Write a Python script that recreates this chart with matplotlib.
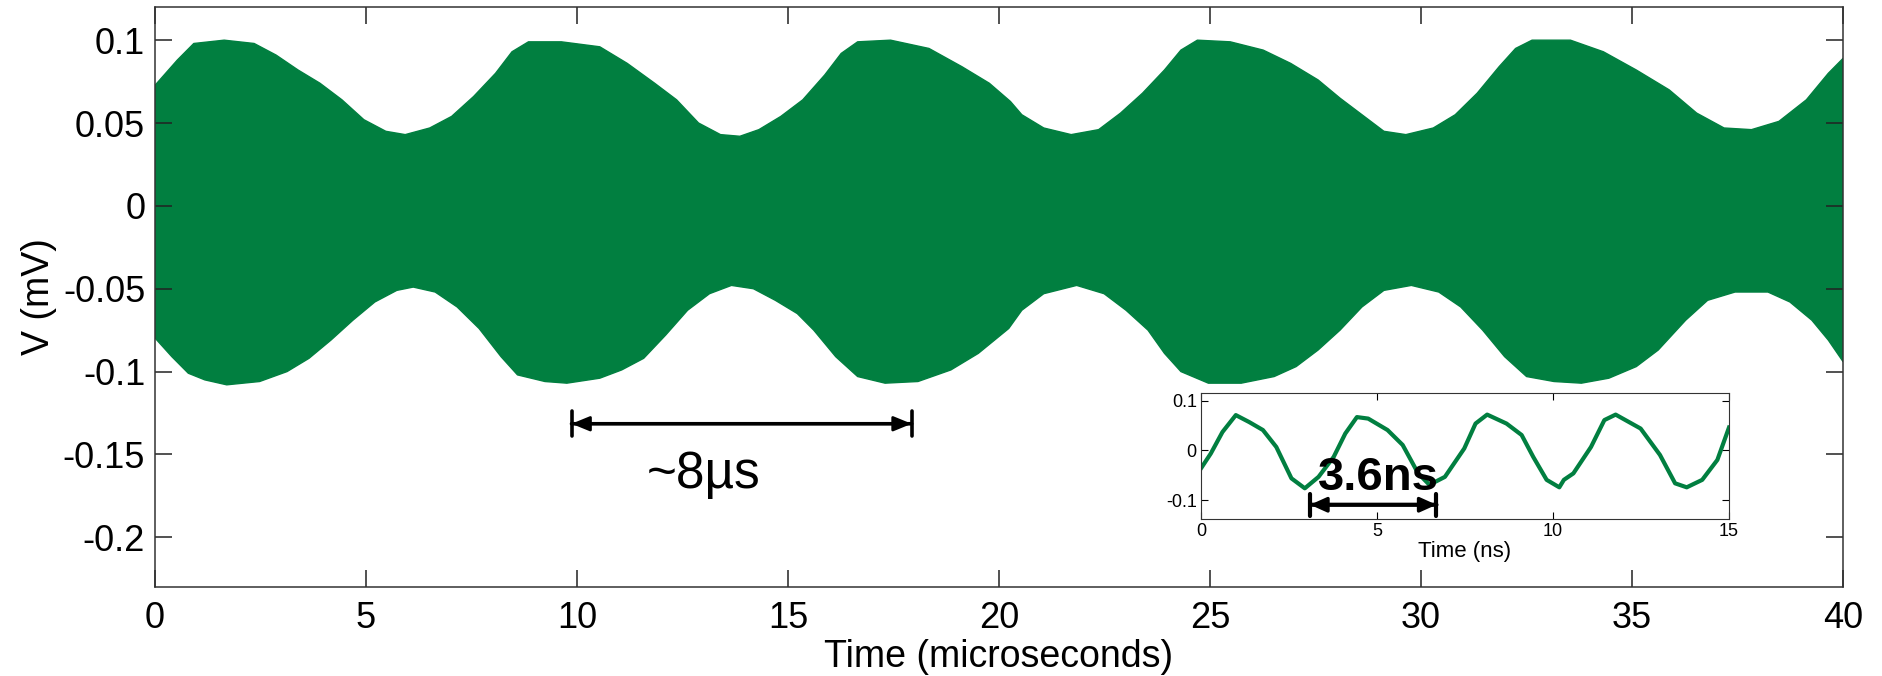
import matplotlib.pyplot as plt
import numpy as np

plt.rcParams['font.family'] = ['Liberation Sans', 'DejaVu Sans']

GREEN = '#017f40'

# upper envelope of the carrier (time in microseconds, V in mV)
up_t = [0.01, 0.53, 0.92, 1.64, 2.35, 2.87, 3.39, 3.91, 4.43, 4.95, 5.47, 5.93, 6.51, 7.03,
        7.55, 8.07, 8.46, 8.85, 9.63, 10.54, 11.19, 11.84, 12.36, 12.88, 13.40, 13.86, 14.31,
        14.83, 15.35, 15.87, 16.26, 16.65, 17.43, 18.34, 19.12, 19.77, 20.27, 20.54, 21.06,
        21.71, 22.36, 22.88, 23.40, 23.92, 24.31, 24.70, 25.48, 26.26, 26.91, 27.56, 28.08,
        28.60, 29.12, 29.64, 30.29, 30.81, 31.33, 31.85, 32.24, 32.63, 33.54, 34.32, 35.10,
        35.88, 36.53, 37.18, 37.83, 38.48, 39.13, 39.65, 40.0]
up_v = [0.073, 0.088, 0.098, 0.100, 0.098, 0.091, 0.082, 0.074, 0.064, 0.052, 0.045, 0.043,
        0.047, 0.054, 0.066, 0.080, 0.093, 0.099, 0.099, 0.096, 0.086, 0.074, 0.064, 0.050,
        0.043, 0.042, 0.046, 0.054, 0.064, 0.079, 0.092, 0.099, 0.100, 0.095, 0.084, 0.074,
        0.063, 0.055, 0.047, 0.043, 0.046, 0.056, 0.068, 0.082, 0.094, 0.100, 0.099, 0.094,
        0.086, 0.076, 0.065, 0.055, 0.045, 0.043, 0.047, 0.055, 0.068, 0.084, 0.095, 0.100,
        0.100, 0.093, 0.082, 0.070, 0.056, 0.047, 0.046, 0.051, 0.064, 0.080, 0.089]

# lower envelope
low_t = [0.01, 0.40, 0.79, 1.18, 1.70, 2.48, 3.13, 3.65, 4.17, 4.69, 5.21, 5.73, 6.12, 6.64,
         7.16, 7.68, 8.20, 8.59, 9.24, 9.76, 10.54, 11.06, 11.58, 12.10, 12.62, 13.14, 13.66,
         14.18, 14.70, 15.22, 15.61, 16.13, 16.65, 17.30, 18.08, 18.86, 19.51, 20.23, 20.54,
         21.06, 21.84, 22.49, 23.01, 23.53, 23.92, 24.31, 24.96, 25.74, 26.52, 27.04, 27.56,
         28.08, 28.60, 29.12, 29.77, 30.42, 30.94, 31.46, 31.98, 32.50, 33.15, 33.80, 34.45,
         35.10, 35.62, 36.27, 36.79, 37.44, 38.22, 38.74, 39.26, 39.65, 40.0]
low_v = [-0.080, -0.091, -0.101, -0.105, -0.108, -0.106, -0.100, -0.092, -0.081, -0.069,
         -0.058, -0.051, -0.049, -0.052, -0.061, -0.074, -0.091, -0.102, -0.106, -0.107,
         -0.104, -0.099, -0.092, -0.078, -0.063, -0.053, -0.048, -0.050, -0.057, -0.065,
         -0.075, -0.091, -0.103, -0.107, -0.106, -0.099, -0.089, -0.074, -0.063, -0.053,
         -0.048, -0.053, -0.063, -0.075, -0.089, -0.100, -0.107, -0.107, -0.103, -0.097,
         -0.087, -0.075, -0.061, -0.051, -0.048, -0.052, -0.061, -0.075, -0.091, -0.103,
         -0.106, -0.107, -0.104, -0.097, -0.087, -0.069, -0.057, -0.052, -0.052, -0.058,
         -0.069, -0.081, -0.094]

# zoomed waveform (time in ns)
ins_t = [0, 0.28, 0.61, 0.99, 1.37, 1.76, 2.14, 2.57, 2.95, 3.34, 3.77, 4.10, 4.43, 4.75,
         5.30, 5.73, 6.17, 6.49, 6.93, 7.48, 7.80, 8.13, 8.68, 9.11, 9.44, 9.82, 10.18, 10.31,
         10.58, 11.08, 11.46, 11.78, 12.49, 13.04, 13.47, 13.80, 14.24, 14.67, 15.0]
ins_v = [-0.036, -0.006, 0.037, 0.071, 0.057, 0.041, 0.007, -0.056, -0.076, -0.053, -0.013,
         0.034, 0.067, 0.064, 0.041, 0.011, -0.046, -0.069, -0.053, 0.004, 0.054, 0.072,
         0.054, 0.031, -0.013, -0.059, -0.074, -0.059, -0.046, 0.007, 0.061, 0.072, 0.044,
         -0.009, -0.066, -0.074, -0.059, -0.019, 0.046]

yticks = [-0.2, -0.15, -0.1, -0.05, 0, 0.05, 0.1]
ytick_labels = ['-0.2', '-0.15', '-0.1', '-0.05', '0', '0.05', '0.1']
xticks = [0, 5, 10, 15, 20, 25, 30, 35, 40]
ins_xticks = [0, 5, 10, 15]
ins_yticks = [-0.1, 0, 0.1]
ins_ytick_labels = ['-0.1', '0', '0.1']

fig = plt.figure(figsize=(18.83, 6.76), dpi=100)
ax = fig.add_axes([0.0823, 0.1317, 0.8965, 0.8579])

ax.fill(np.concatenate([up_t, low_t[::-1]]), np.concatenate([up_v, low_v[::-1]]),
        color=GREEN, lw=1.0, ec=GREEN, joinstyle='round')
ax.set_xlim(0, 40)
ax.set_ylim(-0.23, 0.12)
ax.set_xticks(xticks)
ax.set_xticklabels([str(t) for t in xticks])
ax.set_yticks(yticks)
ax.set_yticklabels(ytick_labels)
ax.tick_params(direction='in', length=12, width=1.1, labelsize=26, top=True, right=True,
               color='#222222')
ax.tick_params(axis='x', pad=10)
ax.tick_params(axis='y', pad=7)
for s in ax.spines.values():
    s.set_linewidth(1.1)
    s.set_color('#333333')
ax.set_xlabel('Time (microseconds)', fontsize=27, labelpad=2)
ax.set_ylabel('V (mV)', fontsize=27, labelpad=4)

# ~8 us period marker
ax.annotate('', xy=(17.93, -0.1315), xytext=(9.87, -0.1315),
            arrowprops=dict(arrowstyle='<|-|>,head_length=11,head_width=4.5', mutation_scale=1,
                            lw=2, color='black', shrinkA=0, shrinkB=0))
ax.annotate('', xy=(17.93, -0.1315), xytext=(9.87, -0.1315),
            arrowprops=dict(arrowstyle='|-|,widthA=9,widthB=9', mutation_scale=1,
                            lw=2.6, color='black', shrinkA=0, shrinkB=0))
ax.text(12.99, -0.170, '~8µs', fontsize=37, ha='center', va='baseline')

# inset
ins = fig.add_axes([0.6378, 0.2327, 0.2804, 0.1864])
ins.plot(ins_t, ins_v, color=GREEN, lw=3, solid_joinstyle='round')
ins.set_xlim(0, 15)
ins.set_ylim(-0.137, 0.116)
ins.set_xticks(ins_xticks)
ins.set_xticklabels([str(t) for t in ins_xticks])
ins.set_yticks(ins_yticks)
ins.set_yticklabels(ins_ytick_labels)
ins.tick_params(direction='in', length=5, width=0.8, labelsize=13, top=True, right=True, pad=3)
for s in ins.spines.values():
    s.set_linewidth(0.8)
    s.set_color('#333333')
ins.set_xlabel('Time (ns)', fontsize=16, labelpad=1)

ins.annotate('', xy=(6.69, -0.109), xytext=(3.10, -0.109),
             arrowprops=dict(arrowstyle='<|-|>,head_length=10,head_width=4.5', mutation_scale=1,
                             lw=2.4, color='black', shrinkA=0, shrinkB=0))
ins.annotate('', xy=(6.69, -0.109), xytext=(3.10, -0.109),
             arrowprops=dict(arrowstyle='|-|,widthA=8,widthB=8', mutation_scale=1,
                             lw=3, color='black', shrinkA=0, shrinkB=0))
ins.text(5.05, -0.079, '3.6ns', fontsize=34, fontweight='bold', ha='center', va='baseline',
         zorder=5)

fig.savefig('out.png', dpi=100)
